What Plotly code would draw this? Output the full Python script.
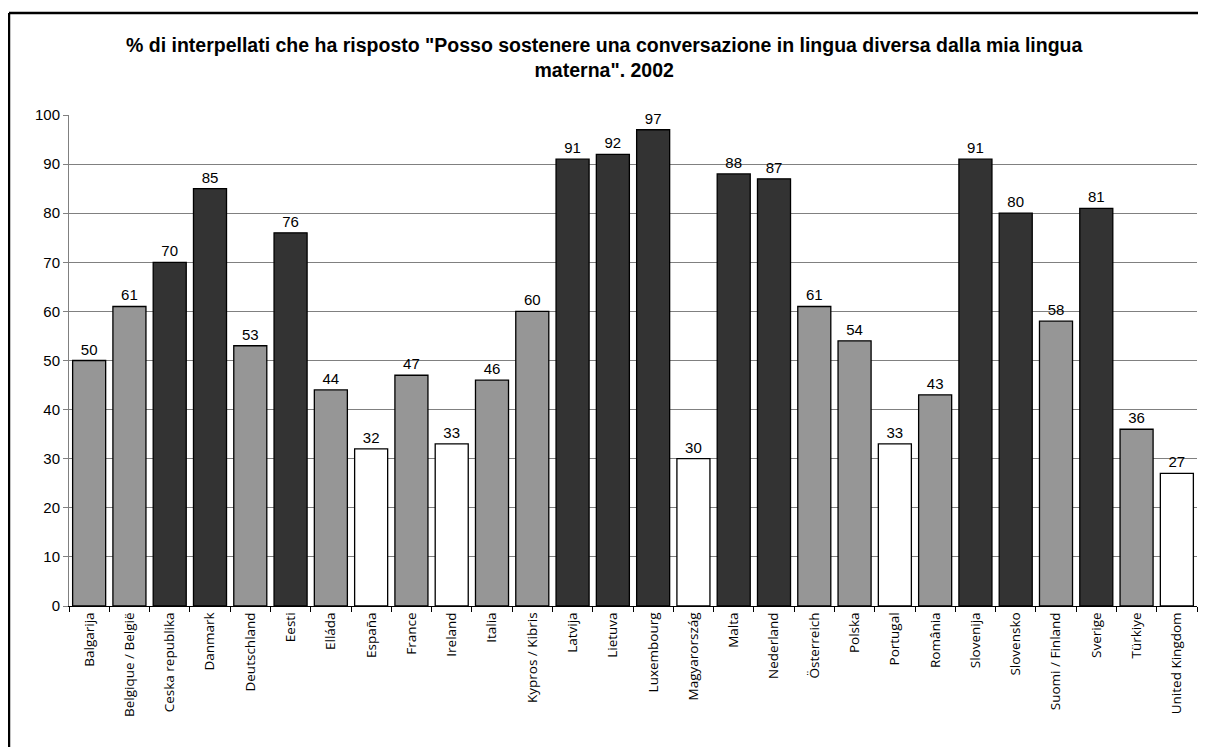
import plotly.graph_objects as go

countries = ["Balgarija", "Belgique / België", "Ceska republika", "Danmark", "Deutschland", "Eesti",
             "Elláda", "España", "France", "Ireland", "Italia", "Kypros / Kibris", "Latvija", "Lietuva",
             "Luxembourg", "Magyarország", "Malta", "Nederland", "Österreich", "Polska", "Portugal",
             "România", "Slovenija", "Slovensko", "Suomi / Finland", "Sverige", "Türkiye", "United Kingdom"]
values = [50, 61, 70, 85, 53, 76, 44, 32, 47, 33, 46, 60, 91, 92, 97, 30, 88, 87, 61, 54, 33, 43, 91, 80, 58, 81, 36, 27]
groups = ["mid", "mid", "high", "high", "mid", "high", "mid", "low", "mid", "low", "mid", "mid", "high", "high",
          "high", "low", "high", "high", "mid", "mid", "low", "mid", "high", "high", "mid", "high", "mid", "low"]
y_ticks = [0, 10, 20, 30, 40, 50, 60, 70, 80, 90, 100]
title_lines = ['% di interpellati che ha risposto "Posso sostenere una conversazione in lingua diversa dalla mia lingua',
               'materna". 2002']

palette = {"high": "#333333", "mid": "#969696", "low": "#ffffff"}
colors = [palette[g] for g in groups]

narrow = "Liberation Sans Narrow, Arial Narrow, Liberation Sans, sans-serif"

fig = go.Figure(go.Bar(
    x=countries, y=values,
    marker=dict(color=colors, line=dict(color="#000000", width=1.3)),
    text=[str(v) for v in values], textposition="outside",
    textfont=dict(family=narrow, size=15, color="#000000"),
    cliponaxis=False, width=0.82,
))

fig.update_layout(
    width=1198, height=739,
    margin=dict(l=61, r=9, t=107, b=141),
    paper_bgcolor="#ffffff", plot_bgcolor="#ffffff",
    showlegend=False,
    annotations=[dict(
        text="<br>".join("<b>" + t + "</b>" for t in title_lines),
        x=0.475, xref="paper", y=1.117, yref="paper", xanchor="center", yanchor="middle",
        showarrow=False, font=dict(family=narrow, size=19.5, color="#000000"), align="center")],
    shapes=[
        dict(type="line", xref="paper", yref="paper", x0=-0.0532, x1=1.06, y0=1.2077, y1=1.2077,
             line=dict(color="#000000", width=2.5), layer="below"),
        dict(type="line", xref="paper", yref="paper", x0=-0.0532, x1=-0.0532, y0=-0.35, y1=1.2077,
             line=dict(color="#000000", width=2.5), layer="below"),
    ],
)

fig.update_xaxes(
    type="category", tickangle=-90, tickson="boundaries", ticks="outside", ticklen=5, tickcolor="#000000",
    showline=True, linecolor="#000000", linewidth=1, showgrid=False,
    tickfont=dict(family="Open Sans, sans-serif", size=13.5, color="#000000"),
)
fig.update_yaxes(
    range=[0, 100], tickvals=y_ticks, ticks="outside", ticklen=5, tickcolor="#808080",
    showline=True, linecolor="#808080", linewidth=1,
    showgrid=True, gridcolor="#808080", gridwidth=1, zeroline=False,
    tickfont=dict(family=narrow, size=15, color="#000000"),
)

fig.write_html("out.html")
